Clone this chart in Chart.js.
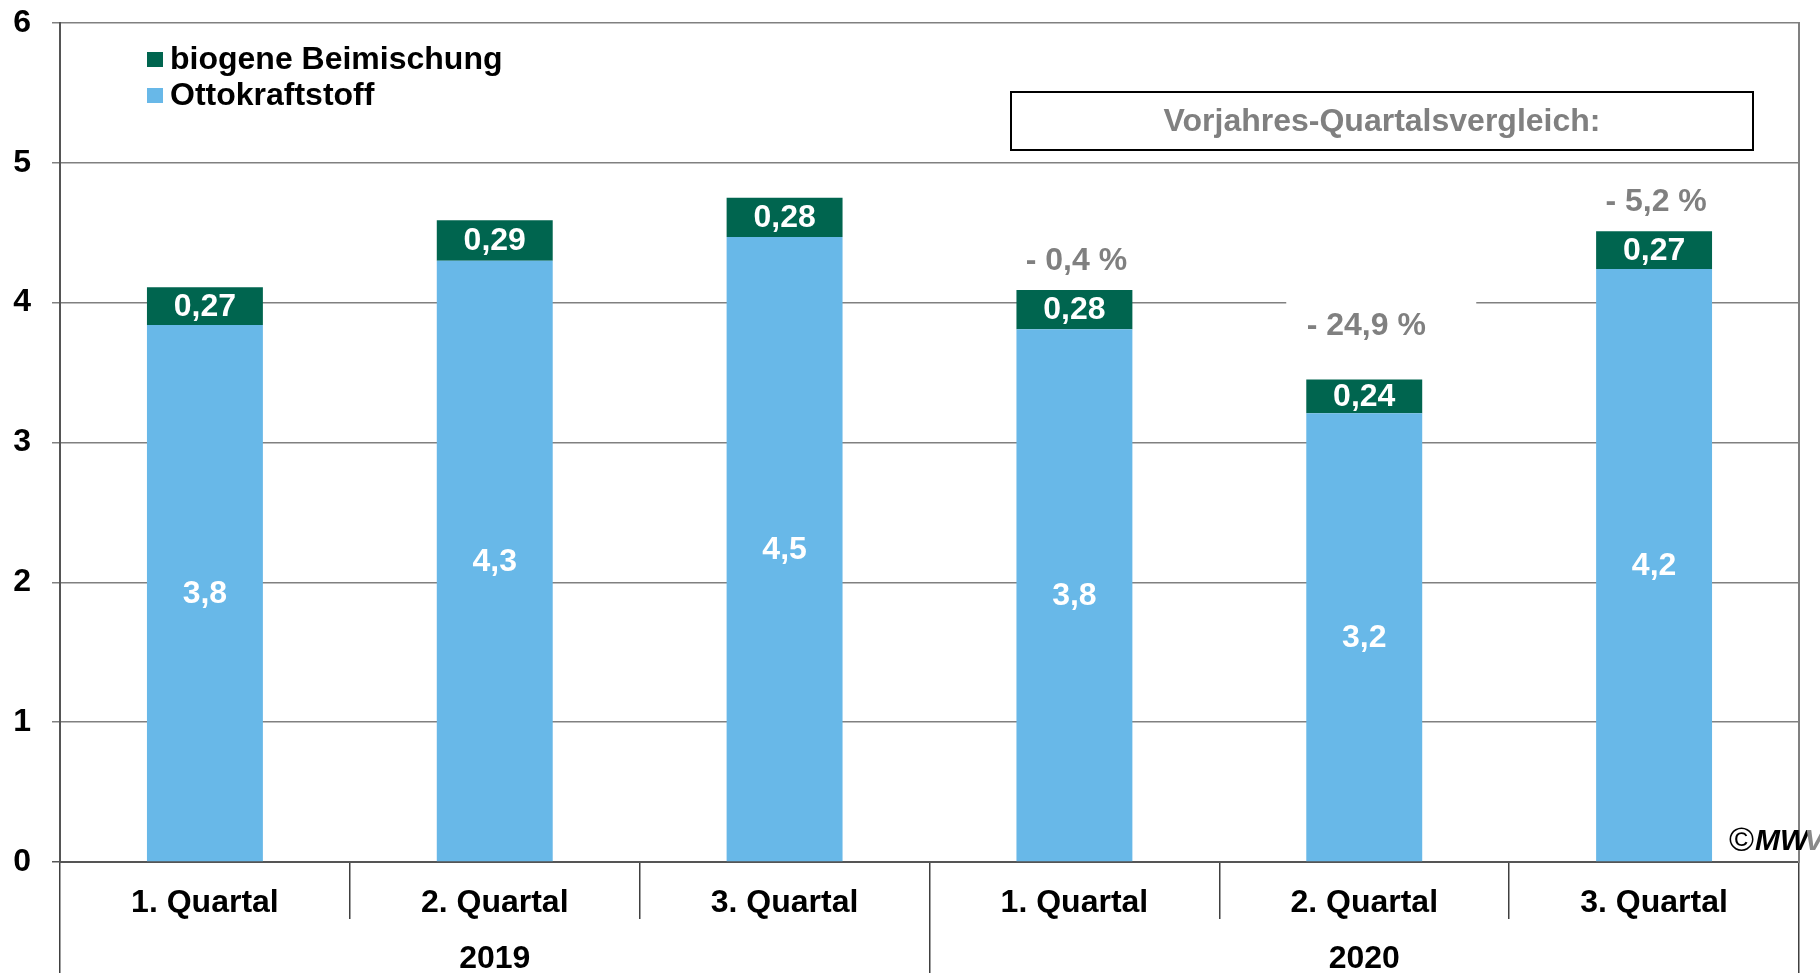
<!DOCTYPE html>
<html>
<head>
<meta charset="utf-8">
<script src="https://cdn.jsdelivr.net/npm/chart.js@4"></script>
<style>
  html, body { margin: 0; padding: 0; background: #fff; }
  canvas { display: block; }
</style>
</head>
<body>
<canvas id="chart" width="1820" height="973"></canvas>
<script>
// Daten
const quarters = ["1. Quartal", "2. Quartal", "3. Quartal", "1. Quartal", "2. Quartal", "3. Quartal"];
const years = ["2019", "2020"];
const ottokraftstoff = [3.84, 4.30, 4.47, 3.81, 3.21, 4.24];
const biogen = [0.27, 0.29, 0.28, 0.28, 0.24, 0.27];
const yoyChange = [null, null, null, "- 0,4 %", "- 24,9 %", "- 5,2 %"];
const yTicks = [0, 1, 2, 3, 4, 5, 6];

const FONT = '"Liberation Sans", Arial, sans-serif';
const BLUE = "#68b8e8";
const GREEN = "#00654f";
const GREY = "#808080";

Chart.defaults.font.family = FONT;

// Beschriftungen, Legende, Kasten
const extras = {
  id: "extras",
  afterDatasetsDraw(chart) {
    const ctx = chart.ctx;
    ctx.save();
    ctx.textAlign = "center";
    ctx.textBaseline = "middle";
    ctx.font = "bold 32px " + FONT;
    ctx.fillStyle = "#fff";
    chart.data.datasets.forEach((ds, i) => {
      chart.getDatasetMeta(i).data.forEach((bar, j) => {
        const txt = ds.data[j].toFixed(i === 0 ? 1 : 2).replace(".", ",");
        ctx.fillText(txt, bar.x, (bar.y + bar.base) / 2 + 1);
      });
    });

    // Vorjahresvergleich
    const lift = [0, 0, 0, 29, 53, 29];
    const tops = chart.getDatasetMeta(1).data;
    yoyChange.forEach((t, j) => {
      if (!t) return;
      const cx = tops[j].x + 2, cy = tops[j].y - lift[j];
      ctx.fillStyle = "#fff";
      ctx.fillRect(cx - 80, cy - 30, 190, 56);
      ctx.fillStyle = GREY;
      ctx.fillText(t, cx, cy);
    });

    // Kasten
    ctx.strokeStyle = "#000";
    ctx.lineWidth = 2;
    ctx.fillStyle = "#fff";
    ctx.fillRect(1011, 92, 742, 58);
    ctx.strokeRect(1011, 92, 742, 58);
    ctx.fillStyle = GREY;
    ctx.fillText("Vorjahres-Quartalsvergleich:", 1382, 122);

    // Legende
    ctx.textAlign = "left";
    const items = [chart.data.datasets[1], chart.data.datasets[0]];
    items.forEach((ds, k) => {
      const y = 59 + k * 36;
      ctx.fillStyle = ds.backgroundColor;
      ctx.fillRect(147, y - 7, 16, 15);
      ctx.fillStyle = "#000";
      ctx.fillText(ds.label, 170, y + 1);
    });

    // Copyright
    ctx.font = "34px " + FONT;
    ctx.fillStyle = "#000";
    ctx.fillText("\u00a9", 1729, 842);
    ctx.font = "italic bold 30px " + FONT;
    ctx.fillText("MW", 1755, 842);
    ctx.fillStyle = "#8a8a8a";
    ctx.fillText("V", 1755 + ctx.measureText("MW").width - 4, 842);
    ctx.restore();
  }
};

new Chart(document.getElementById("chart"), {
  type: "bar",
  data: {
    labels: quarters,
    datasets: [
      { label: "Ottokraftstoff", data: ottokraftstoff, backgroundColor: BLUE },
      { label: "biogene Beimischung", data: biogen, backgroundColor: GREEN }
    ]
  },
  options: {
    responsive: false,
    animation: false,
    barPercentage: 0.4,
    categoryPercentage: 1.0,
    layout: { padding: { top: 23, left: 0, right: 0, bottom: 0 } },
    plugins: { legend: { display: false }, tooltip: { enabled: false } },
    scales: {
      x: {
        stacked: true,
        weight: 0,
        grid: { drawOnChartArea: false, tickLength: 57, color: "#404040", lineWidth: 1.5 },
        border: { color: "#555", width: 2 },
        ticks: { color: "#000", font: { size: 32, weight: "bold" }, padding: -35, maxRotation: 0, autoSkip: false },
        afterFit: (s) => { s.height = 57; s.paddingLeft = 0; s.paddingRight = 0; }
      },
      x2: {
        type: "category",
        position: "bottom",
        labels: years,
        offset: true,
        weight: 1,
        grid: { offset: true, drawOnChartArea: false, tickLength: 54, color: "#404040", lineWidth: 1.5 },
        border: { display: false },
        ticks: { color: "#000", font: { size: 32, weight: "bold" }, padding: -33, maxRotation: 0 },
        afterFit: (s) => { s.height = 54; s.paddingLeft = 0; s.paddingRight = 0; }
      },
      y: {
        stacked: true,
        min: 0,
        max: 6,
        afterBuildTicks: (s) => { s.ticks = yTicks.map(v => ({ value: v })); },
        grid: {
          tickLength: 8,
          lineWidth: 1.5,
          color: (c) => (c.tick && c.tick.value === 0 ? "#555" : GREY)
        },
        border: { color: "#555", width: 2 },
        ticks: { color: "#000", font: { size: 32, weight: "bold" }, padding: 21 },
        afterFit: (s) => { s.width = 60; s.paddingTop = 0; s.paddingBottom = 0; }
      },
      y2: {
        position: "right",
        grid: { display: false },
        ticks: { display: false },
        border: { color: GREY, width: 2 },
        afterFit: (s) => { s.width = 21; s.paddingTop = 0; s.paddingBottom = 0; }
      }
    }
  },
  plugins: [extras]
});
</script>
</body>
</html>
